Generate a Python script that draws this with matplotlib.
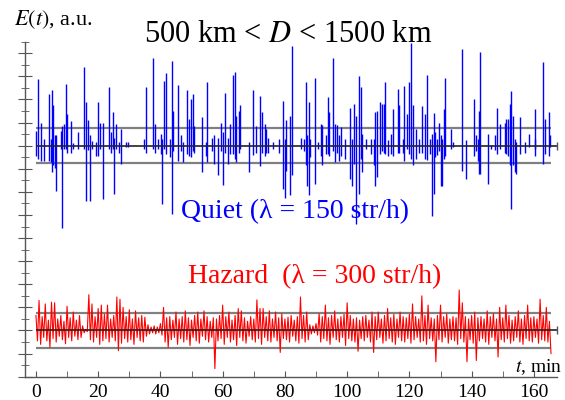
import numpy as np
import matplotlib
matplotlib.use('Agg')
import matplotlib.pyplot as plt

# --- data (tick units, relative to each trace's baseline) ---
# quiet regime: spikes as (time, upper end, lower end)
blue_t = [0.0, 0.75, 1.5, 2.6, 4.15, 4.7, 5.2, 5.6, 6.2, 6.5, 8.2, 8.5, 9.05, 9.7, 9.9,
          11.4, 11.9, 13.4, 15.3, 16.2, 16.6, 17.3, 17.9, 19.3, 20.0, 20.6, 21.4, 23.6,
          24.2, 24.8, 25.2, 25.8, 26.6, 27.4, 28.8, 29.5, 34.8, 35.4, 37.7, 38.2, 39.1,
          40.1, 40.5, 41.2, 41.7, 43.1, 43.6, 44.1, 45.7, 46.5, 47.1, 48.7, 49.2, 49.9,
          50.4, 50.8, 53.2, 54.5, 55.1, 56.6, 57.2, 58.6, 59.4, 60.0, 60.6, 61.8, 62.5,
          63.2, 63.9, 64.4, 65.2, 65.7, 68.6, 69.9, 70.7, 72.1, 72.6, 73.5, 73.9, 74.7,
          76.3, 78.2, 79.3, 79.9, 80.3, 81.7, 82.4, 85.2, 86.0, 86.7, 87.2, 87.8, 88.2,
          89.7, 90.5, 91.5, 92.0, 93.1, 93.7, 94.1, 95.4, 96.1, 96.6, 97.3, 98.0, 99.3,
          101.0, 101.6, 102.1, 103.0, 103.7, 104.4, 104.8, 106.2, 107.8, 108.6, 109.0,
          109.7, 110.4, 111.3, 111.8, 112.2, 113.1, 114.2, 114.8, 116.3, 116.8, 117.9,
          118.4, 119.3, 120.0, 120.6, 121.1, 122.1, 123.2, 124.2, 125.0, 125.8, 126.7,
          127.2, 127.8, 128.2, 128.9, 129.5, 130.2, 130.6, 131.0, 131.5, 133.3, 134.1,
          137.0, 138.2, 140.6, 141.4, 142.0, 142.5, 142.8, 145.3, 146.3, 147.4, 148.3,
          149.1, 150.6, 151.2, 151.7, 152.3, 152.6, 153.2, 153.8, 154.4, 155.5, 157.0,
          158.4, 160.2, 160.5, 162.9, 163.5, 164.9, 165.3]
blue_up = [1.3, 5.8, 2.0, 0.6, 4.5, 0.6, 4.8, 3.5, 0.9, 0.9, 1.3, 1.7, 1.9, 5.3, 2.7,
           2.1, 0.25, 1.2, 6.8, 3.75, 2.25, 0.9, 0.4, 0.3, 3.75, 2.0, 2.0, 5.1,
           1.15, 2.9, 0.7, 1.9, 0.3, 1.4, 0.3, 0.3, 0.6, 5.05, 7.6, 1.9, 0.6,
           1.0, 0.6, 5.6, 6.3, 0.6, 7.3, 3.0, 5.25, 0.9, 0.3, 4.85, 2.3, 4.0,
           4.5, 1.7, 2.5, 0.3, 5.5, 0.7, 0.9, 0.7, 2.0, 1.15, 4.55, 0.7, 1.9,
           6.1, 6.4, 2.6, 3.0, 3.5, 0.3, 4.8, 1.7, 4.3, 2.9, 1.9, 1.4, 0.7,
           0.3, 0.6, 3.9, 0.6, 2.2, 2.6, 8.6, 0.7, 0.6, 5.5, 0.9, 3.75, 0.6,
           5.9, 0.3, 1.9, 1.8, 0.9, 4.2, 2.9, 7.6, 1.9, 1.8, 0.9, 1.6, 0.6,
           3.3, 0.6, 3.6, 2.6, 6.0, 5.05, 1.0, 0.6, 0.6, 0.6, 2.9,
           3.0, 3.75, 3.6, 3.6, 5.5, 0.45, 1.0, 3.2, 4.9, 3.5, 0.6,
           5.2, 2.7, 5.5, 8.9, 3.5, 1.45, 0.6, 3.4, 2.7, 6.1, 0.6,
           1.0, 2.8, 1.15, 0.6, 2.0, 0.9, 0.6, 3.2, 5.85, 1.4, 0.3,
           8.4, 0.5, 4.0, 0.9, 0.6, 3.0, 8.1, 1.0, 0.1, 0.95, 3.3,
           1.9, 2.0, 2.3, 2.3, 3.6, 4.7, 2.6, 0.6, 0.3, 2.5, 0.3,
           1.0, 0.6, 3.2, 7.2, 2.3, 2.9, 0.9]
blue_dn = [-0.9, -1.15, -1.3, -1.3, -1.3, -1.45, -2.3, -1.7, -1.9, -3.9, -0.3, -7.1, -0.3, -0.3, -0.6,
           -0.6, -0.3, -0.3, -0.3, -4.8, -0.4, -4.8, -0.3, -0.9, -0.9, -0.3, -4.6, -0.3,
           -0.6, -0.3, -4.2, -0.3, -0.6, -1.6, -0.15, -0.15, -0.3, -0.6, -0.3, -0.6, -0.3,
           -0.7, -5.05, -0.3, -0.7, -1.0, -5.9, -0.45, -1.3, -0.45, -1.45, -0.7, -0.9, -1.0,
           -0.45, -0.6, -2.3, -0.9, -1.45, -0.45, -1.6, -2.5, -0.45, -3.4, -0.6, -1.6, -0.7,
           -0.7, -1.15, -1.4, -0.6, -0.3, -2.3, -0.8, -0.6, -1.8, -0.6, -0.9, -0.6, -0.6,
           -0.3, -0.6, -3.75, -4.5, -2.2, -4.3, -2.5, -0.3, -0.45, -1.7, -3.5, -4.3, -1.0,
           -3.3, -0.3, -0.9, -1.7, -0.7, -0.7, -0.9, -0.45, -1.45, -0.6, -1.3, -0.9, -1.15,
           -2.9, -3.5, -1.6, -6.8, -4.2, -1.15, -2.3, -0.3, -0.7, -1.7, -3.5,
           -2.7, -0.7, -0.45, -0.6, -0.7, -0.9, -0.7, -0.9, -0.6, -0.6, -0.6,
           -1.3, -0.3, -0.7, -1.15, -1.7, -1.15, -0.6, -0.6, -1.15, -1.2, -0.7,
           -6.1, -4.2, -1.0, -0.8, -0.45, -3.5, -3.5, -1.15, -0.9, -0.3, -0.15,
           -2.2, -2.9, -0.9, -0.45, -1.3, -2.45, -2.45, -3.3, -0.3, -0.35, -0.7,
           -0.3, -0.6, -0.7, -0.9, -1.7, -5.5, -1.7, -2.3, -2.45, -0.7, -0.6,
           -0.15, -0.3, -0.9, -1.6, -0.7, -0.9, -0.15]

# hazard regime: per-minute upper / lower excursions, t = 0..165 min
red_up = [1.3, 2.6, 1.2, 2.3, 0.9, 2.45, 2.4, 1.0, 1.3, 0.8, 2.1, 1.1, 1.6, 0.9, 1.3, 0.4, 0.1,
          3.1, 2.3, 1.2, 1.9, 2.2, 1.4, 2.2, 1.0, 1.3, 2.9, 2.7, 2.0, 1.2, 1.8, 1.0, 1.7, 1.1,
          1.3, 1.15, 0.5, 0.3, 0.4, 0.3, 0.6, 2.0, 1.1, 1.2, 0.9, 1.6, 1.0, 1.2, 1.7, 1.1, 0.9,
          1.3, 1.6, 1.0, 1.7, 1.2, 0.8, 1.1, 1.0, 1.3, 2.2, 1.2, 1.6, 0.9, 1.3, 1.9, 1.7, 1.1,
          0.8, 1.2, 1.0, 2.65, 1.9, 1.9, 1.2, 1.7, 1.0, 1.6, 1.1, 1.45, 1.0, 1.15, 1.3, 0.9,
          1.2, 2.9, 1.3, 1.6, 0.5, 0.4, 0.6, 1.45, 1.2, 2.2, 1.1, 1.3, 1.7, 1.0, 1.2, 1.4, 2.4,
          1.3, 1.0, 1.1, 0.9, 1.2, 1.3, 0.9, 1.6, 1.2, 1.6, 1.0, 1.3, 1.9, 1.1, 1.4, 1.0, 1.6,
          1.2, 1.1, 1.4, 2.3, 1.2, 1.0, 3.0, 1.3, 2.2, 1.1, 1.0, 1.3, 2.2, 1.2, 1.45, 1.0, 1.2,
          1.1, 3.5, 2.4, 1.2, 1.0, 1.3, 1.6, 1.1, 1.2, 1.0, 1.7, 1.2, 1.45, 1.0, 2.0, 1.1, 2.2,
          1.3, 0.9, 1.2, 1.7, 1.0, 1.3, 2.2, 1.1, 1.2, 1.0, 2.7, 1.3, 2.0, 0.8]
red_dn = [-0.9, -1.2, -0.6, -0.9, -1.45, -0.7, -1.0, -0.5, -0.8, -1.15, -0.6, -0.9, -0.5, -0.8,
          -0.6, -0.2, -0.1, -0.8, -1.0, -0.6, -1.2, -0.9, -0.7, -1.0, -0.6, -0.9, -1.75, -1.1,
          -0.7, -1.0, -0.8, -1.2, -0.6, -0.9, -1.0, -0.5, -0.3, -0.2, -0.3, -0.2, -0.4, -1.0,
          -1.45, -0.8, -0.6, -1.2, -0.7, -1.0, -0.8, -1.3, -0.6, -0.9, -1.1, -0.5, -0.8, -1.0,
          -0.6, -3.3, -0.9, -0.7, -1.2, -0.6, -1.0, -0.8, -1.3, -0.6, -0.9, -1.1, -0.5, -0.8,
          -1.0, -0.7, -1.2, -0.6, -0.9, -1.0, -0.6, -0.9, -1.9, -0.7, -0.8, -1.0, -0.5, -0.9,
          -1.1, -0.7, -1.0, -0.8, -0.3, -0.2, -0.4, -1.0, -0.7, -0.9, -1.2, -0.6, -0.8, -1.0,
          -0.6, -1.3, -0.7, -0.9, -1.0, -1.8, -0.7, -0.9, -0.6, -1.0, -1.9, -0.8, -0.6, -1.1,
          -0.9, -0.7, -1.0, -1.2, -0.6, -0.9, -1.0, -0.7, -1.1, -0.8, -0.6, -1.0, -0.9, -1.2,
          -0.7, -0.9, -2.7, -0.8, -1.0, -0.6, -1.1, -0.8, -0.9, -1.2, -0.7, -1.0, -2.7, -0.8,
          -1.1, -2.6, -0.9, -0.7, -1.0, -1.2, -0.6, -0.9, -2.3, -0.8, -1.0, -0.7, -1.1, -0.9,
          -0.6, -1.0, -1.2, -0.7, -0.9, -1.0, -0.6, -1.1, -0.8, -0.9, -1.0, -2.0]

blue_base = 20
red_base = 4
threshold = 1.5
t_end = 165.5
x_ticks = [0, 20, 40, 60, 80, 100, 120, 140, 160]

plt.rcParams['font.family'] = ['Liberation Serif', 'DejaVu Serif']
plt.rcParams['mathtext.fontset'] = 'stix'

fig = plt.figure(figsize=(5.65, 4.0), dpi=100)
W, H = 565.0, 400.0
ax = fig.add_axes([25 / W, (H - 376.7) / H, (W - 25) / W, (376.7 - 41.7) / H])

px_per_min = 3.13
ax.set_xlim((25 - 36) / px_per_min, (565 - 36) / px_per_min)
ax.set_ylim(0, 29)

# threshold lines
for base in (blue_base, red_base):
    for lvl in (base + threshold, base - threshold):
        ax.hlines(lvl, 0, t_end, color='#808080', lw=1.6, zorder=1)

# quiet trace
bt = np.array(blue_t)
ax.vlines(bt, blue_base + np.array(blue_dn), blue_base + np.array(blue_up),
          color='#0000ff', lw=1.0, zorder=2)

# hazard trace: alternate upper/lower excursions
n = len(red_up)
rt = np.empty(2 * n)
rv = np.empty(2 * n)
rt[0::2] = np.arange(n)
rt[1::2] = np.arange(n) + 0.5
rv[0::2] = red_base + np.array(red_up)
rv[1::2] = red_base + np.array(red_dn)
ax.plot(rt, rv, color='#ff0000', lw=0.8, zorder=2)

# baselines with end tick
for base in (blue_base, red_base):
    ax.hlines(base, 0, 167.5, color='#222222', lw=1.2, zorder=3)
    ax.plot([167.5], [base], marker='|', ms=6, mew=1.0, color='#555555', zorder=3)

# axes styling
for s in ('top', 'right'):
    ax.spines[s].set_visible(False)
for s in ('left', 'bottom'):
    ax.spines[s].set_color('#555555')
    ax.spines[s].set_linewidth(1.0)
ax.spines['bottom'].set_bounds(ax.get_xlim()[0], 167.5)

ax.set_yticks(np.arange(0, 30, 2))
ax.set_yticks(np.arange(1, 30, 2), minor=True)
ax.tick_params(axis='y', which='major', direction='inout', length=10, color='#555555',
               labelleft=False)
ax.tick_params(axis='y', which='minor', direction='inout', length=6, color='#555555')

ax.set_xticks(x_ticks)
ax.set_xticks(np.arange(10, 171, 20), minor=True)
ax.set_xticklabels([str(v) for v in x_ticks])
ax.tick_params(axis='x', which='both', direction='in', length=4, color='#555555',
               labelsize=14, pad=5)

fig.text(14 / W, 1 - 20 / H, r'$E(t)$, a.u.', fontsize=16, va='center', ha='left')
fig.text(288 / W, 1 - 35 / H, r'500 km < $D$ < 1500 km', fontsize=22, va='center', ha='center')
fig.text(295 / W, 1 - 212 / H, 'Quiet (λ = 150 str/h)', fontsize=20, color='#0000ff',
         va='center', ha='center')
fig.text(315 / W, 1 - 277 / H, 'Hazard  (λ = 300 str/h)', fontsize=20, color='#ff0000',
         va='center', ha='center')
fig.text(562 / W, 1 - 367 / H, r'$t$, min', fontsize=14, va='center', ha='right')

fig.savefig('out.png', dpi=100)
